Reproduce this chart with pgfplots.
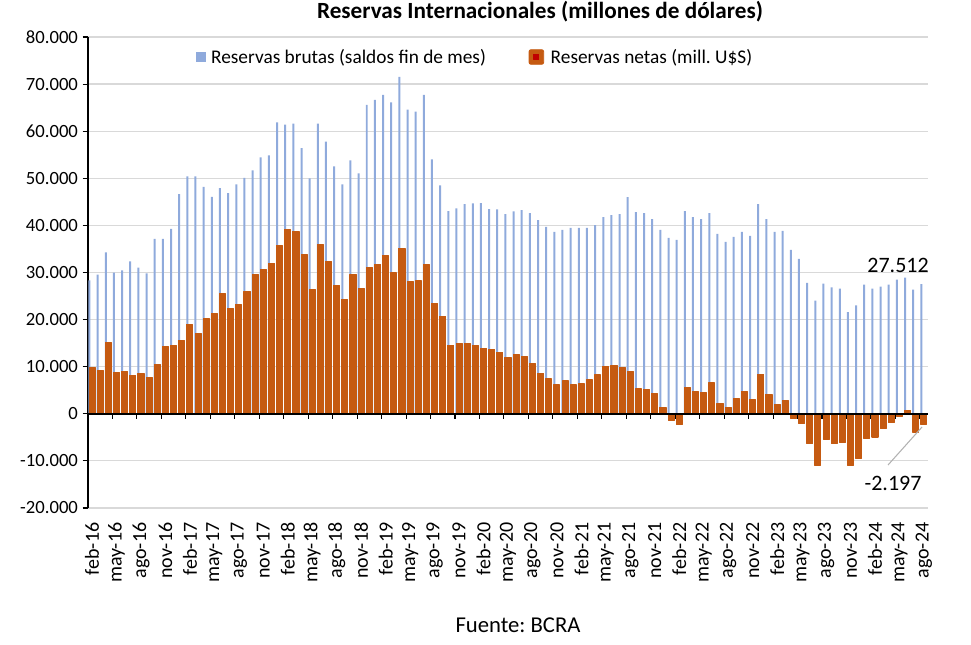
\documentclass[border=0pt]{standalone}
\usepackage{pgfplots}
\usepackage{pgfplotstable}
\pgfplotsset{compat=1.18}
\usepackage{fontspec}
\setmainfont{Carlito}
\frenchspacing
\definecolor{blueC}{HTML}{8FAADC}
\definecolor{orangeC}{HTML}{C55A11}
\definecolor{gridC}{HTML}{D9D9D9}
\definecolor{redC}{HTML}{C00000}

\pgfplotstableread{
i gross net
0 28340 9850
1 29540 9210
2 34250 15120
3 29960 8790
4 30450 9000
5 32350 8160
6 31010 8580
7 29820 7740
8 37130 10480
9 37130 14280
10 39240 14490
11 46620 15540
12 50420 18920
13 50420 17090
14 48170 20180
15 46060 21240
16 47890 25460
17 46840 22290
18 48730 23140
19 50070 26020
20 51690 29540
21 54430 30590
22 54850 32000
23 61880 35650
24 61390 39030
25 61600 38610
26 56400 33760
27 50000 26370
28 61600 35860
29 57810 32280
30 52530 27220
31 48730 24260
32 53800 29540
33 51050 26580
34 65610 31150
35 66670 31790
36 67720 33540
37 66100 29890
38 71520 35020
39 64560 27990
40 64140 28200
41 67720 31650
42 54010 23420
43 48520 20750
44 43040 14560
45 43600 14980
46 44510 14980
47 44660 14560
48 44730 13920
49 43460 13710
50 43390 13080
51 42410 12030
52 42970 12660
53 43250 12170
54 42620 10690
55 41140 8650
56 39660 7380
57 38610 6120
58 39030 6960
59 39450 6120
60 39450 6330
61 39450 7170
62 40080 8230
63 41770 10060
64 42190 10340
65 42410 9850
66 45990 9000
67 42830 5270
68 42620 5060
69 41350 4220
70 39030 1270
71 37340 -1410
72 36920 -2320
73 43040 5490
74 41770 4640
75 41350 4430
76 42620 6540
77 38190 2110
78 36500 1270
79 37550 3160
80 38610 4640
81 37760 2950
82 44510 8440
83 41350 4010
84 38610 1900
85 38820 2740
86 34810 -910
87 32910 -2110
88 27780 -6330
89 24050 -10900
90 27640 -5410
91 26860 -6330
92 26580 -6120
93 21590 -10900
94 23000 -9490
95 27430 -5270
96 26580 -4920
97 27000 -3160
98 27430 -1900
99 28480 -490
100 28900 700
101 26370 -3870
102 27512 -2197
}\datatable

\begin{document}
\begin{tikzpicture}
\path[use as bounding box] (-66pt,-102.75pt) rectangle (662.25pt,381pt);
\begin{axis}[
  at={(0,0)}, anchor=south west,
  scale only axis, width=630pt, height=353.25pt,
  xmin=-0.5, xmax=102.5, ymin=-20000, ymax=80000,
  axis x line*=bottom, axis y line*=left,
  x axis line style={draw=none},
  y axis line style={black, line width=1.1pt},
  ymajorgrids, grid style={gridC, line width=0.9pt},
  scaled y ticks=false,
  ytick={-20000,-10000,0,10000,20000,30000,40000,50000,60000,70000,80000},
  yticklabels={-20.000,-10.000,0,10.000,20.000,30.000,40.000,50.000,60.000,70.000,80.000},
  yticklabel style={font=\fontsize{14}{16}\selectfont},
  ytick style={black, line width=0.8pt},
  major tick length=4pt, tick align=outside,
  xtick={0,3,...,102},
  xticklabels={feb-16,may-16,ago-16,nov-16,feb-17,may-17,ago-17,nov-17,feb-18,may-18,ago-18,nov-18,feb-19,may-19,ago-19,nov-19,feb-20,may-20,ago-20,nov-20,feb-21,may-21,ago-21,nov-21,feb-22,may-22,ago-22,nov-22,feb-23,may-23,ago-23,nov-23,feb-24,may-24,ago-24},
  xtick style={draw=none},
  xticklabel style={rotate=90, anchor=east, xshift=-3.5pt, font=\fontsize{15}{17}\selectfont},
  legend columns=2,
  legend style={draw=none, fill=none, at={(0.4615,0.9575)}, anchor=center,
    font=\fontsize{14.5}{17}\selectfont,
    /tikz/every even column/.append style={column sep=30pt}},
]
\addplot[ybar, bar width=0.245, bar shift=-0.32, fill=blueC, draw=none,
  legend image code/.code={\fill[blueC] (0pt,-3.9pt) rectangle (7.5pt,3.9pt);}]
  table[x=i, y=gross]{\datatable};
\addlegendentry{\hspace{1.5pt}Reservas brutas (saldos fin de mes)}
\addplot[ybar, bar width=0.74, bar shift=0, fill=orangeC, draw=orangeC, line width=0.8pt, line join=round,
  legend image code/.code={\draw[orangeC, fill=orangeC, rounded corners=1.5pt, line width=0.6pt] (0pt,-5.5pt) rectangle (11pt,5.5pt); \fill[redC] (3.6pt,-1.9pt) rectangle (7.4pt,1.9pt);}]
  table[x=i, y=net]{\datatable};
\addlegendentry{\hspace{3pt}Reservas netas (mill. U\$S)}
\addplot[black, line width=1.1pt, forget plot] coordinates {(-0.5,0) (102.5,0)};
\addplot[ycomb, black, line width=0.8pt, mark=none, forget plot] coordinates {
(2.5,-1100) (5.5,-1100) (8.5,-1100) (11.5,-1100) (14.5,-1100) (17.5,-1100) (20.5,-1100)
(23.5,-1100) (26.5,-1100) (29.5,-1100) (32.5,-1100) (35.5,-1100) (38.5,-1100) (41.5,-1100)
(44.5,-1100) (47.5,-1100) (50.5,-1100) (53.5,-1100) (56.5,-1100) (59.5,-1100) (62.5,-1100)
(65.5,-1100) (68.5,-1100) (71.5,-1100) (74.5,-1100) (77.5,-1100) (80.5,-1100) (83.5,-1100)
(86.5,-1100) (89.5,-1100) (92.5,-1100) (95.5,-1100) (98.5,-1100) (101.5,-1100)};
\node[font=\fontsize{16.5}{18}\selectfont] at (axis cs:98.83,31592) {27.512};
\draw[gray!60, line width=0.8pt] (axis cs:101.77,-2803) -- (axis cs:97.6,-10870);
\node[font=\fontsize{16.5}{18}\selectfont] at (axis cs:98.21,-14692) {-2.197};
\end{axis}
\node[font=\bfseries\fontsize{17.4}{20}\selectfont] at (339pt,372pt) {Reservas Internacionales (millones de dólares)};
\node[font=\fontsize{17}{20}\selectfont] at (322.5pt,-87.75pt) {Fuente: BCRA};
\end{tikzpicture}
\end{document}
